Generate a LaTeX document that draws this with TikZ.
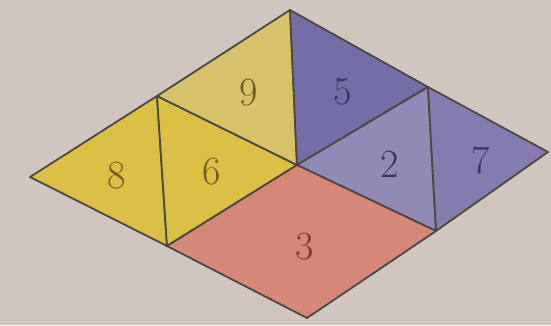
\documentclass[tikz,border=0pt]{standalone}
\usepackage{tikz}
\usetikzlibrary{calc}
\definecolor{paperBg}{RGB}{209,197,191}
\definecolor{edgeGray}{RGB}{78,72,66}
\definecolor{pieceYellow}{RGB}{218,192,68}
\definecolor{paleYellow}{RGB}{214,194,104}
\definecolor{pieceBlue}{RGB}{116,110,166}
\definecolor{paleBlue}{RGB}{146,138,182}
\definecolor{midBlue}{RGB}{132,124,174}
\definecolor{pieceRed}{RGB}{214,136,120}
\definecolor{yellowInk}{RGB}{112,92,38}
\definecolor{blueInk}{RGB}{58,54,104}
\definecolor{redInk}{RGB}{118,62,52}
\tikzset{
  piece/.style={draw=edgeGray, line width=1.8pt, line join=round},
  yellowpiece/.style={piece, fill=pieceYellow},
  paleyellowpiece/.style={piece, fill=paleYellow},
  bluepiece/.style={piece, fill=pieceBlue},
  palebluepiece/.style={piece, fill=paleBlue},
  midbluepiece/.style={piece, fill=midBlue},
  redpiece/.style={piece, fill=pieceRed},
  num/.style={font=\fontsize{40}{40}\selectfont, inner sep=0pt}
}

\begin{document}
\begin{tikzpicture}[x=1pt, y=-1pt]
\fill[paperBg] (0,0) rectangle (551,325);
\useasboundingbox (0,0) rectangle (551,325);
% corners of the big rhombus
\coordinate (top) at (290,10);
\coordinate (left) at (30,177);
\coordinate (bottom) at (307,318);
\coordinate (right) at (548,152);
% inner points
\coordinate (mid) at (297,165);
\coordinate (ul) at (157,96);
\coordinate (ll) at (167,246);
\coordinate (ur) at (428,87);
\coordinate (lr) at (436,231);
% pieces
\filldraw[yellowpiece] (left) -- (ul) -- (ll) -- cycle;
\filldraw[yellowpiece] (ul) -- (mid) -- (ll) -- cycle;
\filldraw[paleyellowpiece] (ul) -- (top) -- (mid) -- cycle;
\filldraw[bluepiece] (top) -- (ur) -- (mid) -- cycle;
\filldraw[palebluepiece] (mid) -- (ur) -- (lr) -- cycle;
\filldraw[midbluepiece] (ur) -- (right) -- (lr) -- cycle;
\filldraw[redpiece] (mid) -- (ll) -- (bottom) -- (lr) -- cycle;
% numbers
\node[num, text=yellowInk] (n8) at (117,176) {8};
\node[num, text=yellowInk] (n6) at (212,172) {6};
\node[num, text=yellowInk] (n9) at (249,93) {9};
\node[num, text=blueInk] (n5) at (343,92) {5};
\node[num, text=blueInk] (n2) at (390,164) {2};
\node[num, text=blueInk] (n7) at (481,160) {7};
\node[num, text=redInk] (n3) at (305,247) {3};
\end{tikzpicture}
\end{document}
